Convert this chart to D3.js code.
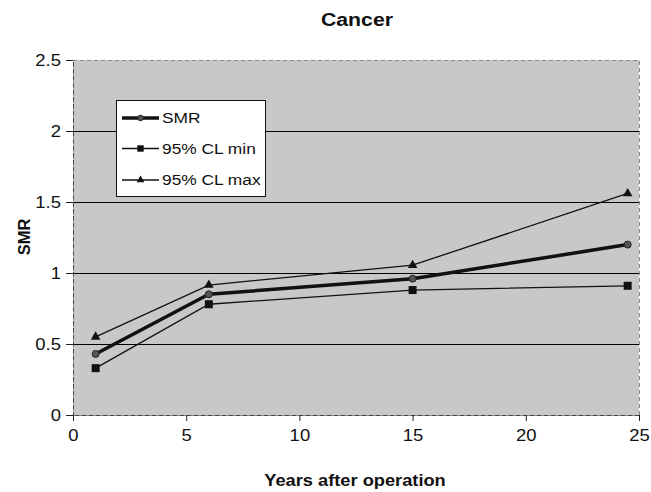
<!DOCTYPE html>
<html><head><meta charset="utf-8">
<script src="https://cdn.jsdelivr.net/npm/d3@7"></script>
<style>
body{margin:0;background:#fff;}
text{font-family:"Liberation Sans",Arial,sans-serif;}
.sx{transform-box:fill-box;transform-origin:center;transform:scaleX(1.12);}
.sxl{transform-box:fill-box;transform-origin:left;transform:scaleX(1.12);}
.sxr{transform-box:fill-box;transform-origin:right;transform:scaleX(1.12);}
</style>
</head><body>
<svg id="c" width="651" height="492"></svg>
<script>
const years = [1, 6, 15, 24.5];
const smr = [0.43, 0.85, 0.96, 1.2];
const clMin = [0.33, 0.78, 0.88, 0.91];
const clMax = [0.55, 0.915, 1.055, 1.56];
const xTicks = [0, 5, 10, 15, 20, 25];
const yTicks = [0, 0.5, 1, 1.5, 2, 2.5];
const seriesNames = ["SMR", "95% CL min", "95% CL max"];

const svg = d3.select("#c");
const L = 73, R = 639, T = 60, B = 415;
const x = d3.scaleLinear().domain([0, 25]).range([L, R]);
const y = d3.scaleLinear().domain([0, 2.5]).range([B, T]);

svg.append("rect").attr("x", L).attr("y", T).attr("width", R - L).attr("height", B - T).attr("fill", "#c8c8c8");
svg.append("g").selectAll("line").data(yTicks.filter(d => d > 0 && d < 2.5)).join("line")
  .attr("x1", L).attr("x2", R).attr("y1", d => y(d)).attr("y2", d => y(d))
  .attr("stroke", "#000").attr("stroke-width", 1).attr("shape-rendering", "crispEdges");
svg.append("rect").attr("x", L).attr("y", T).attr("width", R - L).attr("height", B - T)
  .attr("fill", "none").attr("stroke", "#888").attr("stroke-dasharray", "4,3").attr("shape-rendering", "crispEdges");

const yAxis = svg.append("g").attr("transform", `translate(${L},0)`)
  .call(d3.axisLeft(y).tickValues(yTicks).tickFormat(d3.format("")).tickSize(7).tickPadding(5));
const xAxis = svg.append("g").attr("transform", `translate(0,${B})`)
  .call(d3.axisBottom(x).tickValues(xTicks).tickSize(6).tickPadding(8));
[yAxis, xAxis].forEach(a => {
  a.select(".domain").attr("stroke", "#444").attr("stroke-dasharray", "4,3");
  a.selectAll(".tick line").attr("stroke", "#222");
  a.selectAll("text").attr("font-size", 16.5).attr("fill", "#111").style("font-family", "Liberation Sans, Arial, sans-serif");
});
yAxis.selectAll("text").attr("class", "sxr");
xAxis.selectAll("text").attr("class", "sx");

const line = d3.line().x((d, i) => x(years[i])).y(d => y(d));
const series = [
  {name: seriesNames[0], vals: smr, w: 3.5, m: "circle"},
  {name: seriesNames[1], vals: clMin, w: 1.3, m: "square"},
  {name: seriesNames[2], vals: clMax, w: 1.3, m: "triangle"}
];
function marker(g, type, cx, cy, s) {
  s = s || 1;
  if (type === "circle") g.append("circle").attr("cx", cx).attr("cy", cy).attr("r", 3.5 * s).attr("fill", "#555").attr("stroke", "#222").attr("stroke-width", 1);
  else if (type === "square") g.append("rect").attr("x", cx - 4 * s).attr("y", cy - 4 * s).attr("width", 8 * s).attr("height", 8 * s).attr("fill", "#111");
  else g.append("path").attr("d", d3.symbol(d3.symbolTriangle, 40 * s * s)()).attr("transform", `translate(${cx},${cy})`).attr("fill", "#111");
}
series.forEach(s => {
  svg.append("path").datum(s.vals).attr("d", line).attr("fill", "none").attr("stroke", "#111").attr("stroke-width", s.w);
  const g = svg.append("g");
  s.vals.forEach((v, i) => marker(g, s.m, x(years[i]), y(v)));
});

// legend
const lg = svg.append("g");
lg.append("rect").attr("x", 116.5).attr("y", 100.5).attr("width", 149).attr("height", 96).attr("fill", "#fff").attr("stroke", "#111");
const rowsY = [118, 148.5, 180];
series.forEach((s, i) => {
  const ly = rowsY[i];
  lg.append("line").attr("x1", 122).attr("x2", 159).attr("y1", ly).attr("y2", ly).attr("stroke", "#111").attr("stroke-width", s.w);
  marker(lg, s.m, 140.5, ly, 0.8);
  lg.append("text").attr("class", "sxl").attr("x", 162).attr("y", ly + 5.5).attr("font-size", 15.5).attr("fill", "#111").text(s.name);
});

svg.append("text").attr("class", "sx").attr("x", 357).attr("y", 26).attr("text-anchor", "middle").attr("font-size", 19).attr("font-weight", "bold").attr("fill", "#111").text("Cancer");
svg.append("text").attr("class", "sx").attr("x", 355).attr("y", 486).attr("text-anchor", "middle").attr("font-size", 16.3).attr("font-weight", "bold").attr("fill", "#111").text("Years after operation");
svg.append("text").attr("transform", "translate(30,237) rotate(-90)").attr("text-anchor", "middle").attr("font-size", 16.5).attr("font-weight", "bold").attr("fill", "#111").text("SMR");
</script>
</body></html>
